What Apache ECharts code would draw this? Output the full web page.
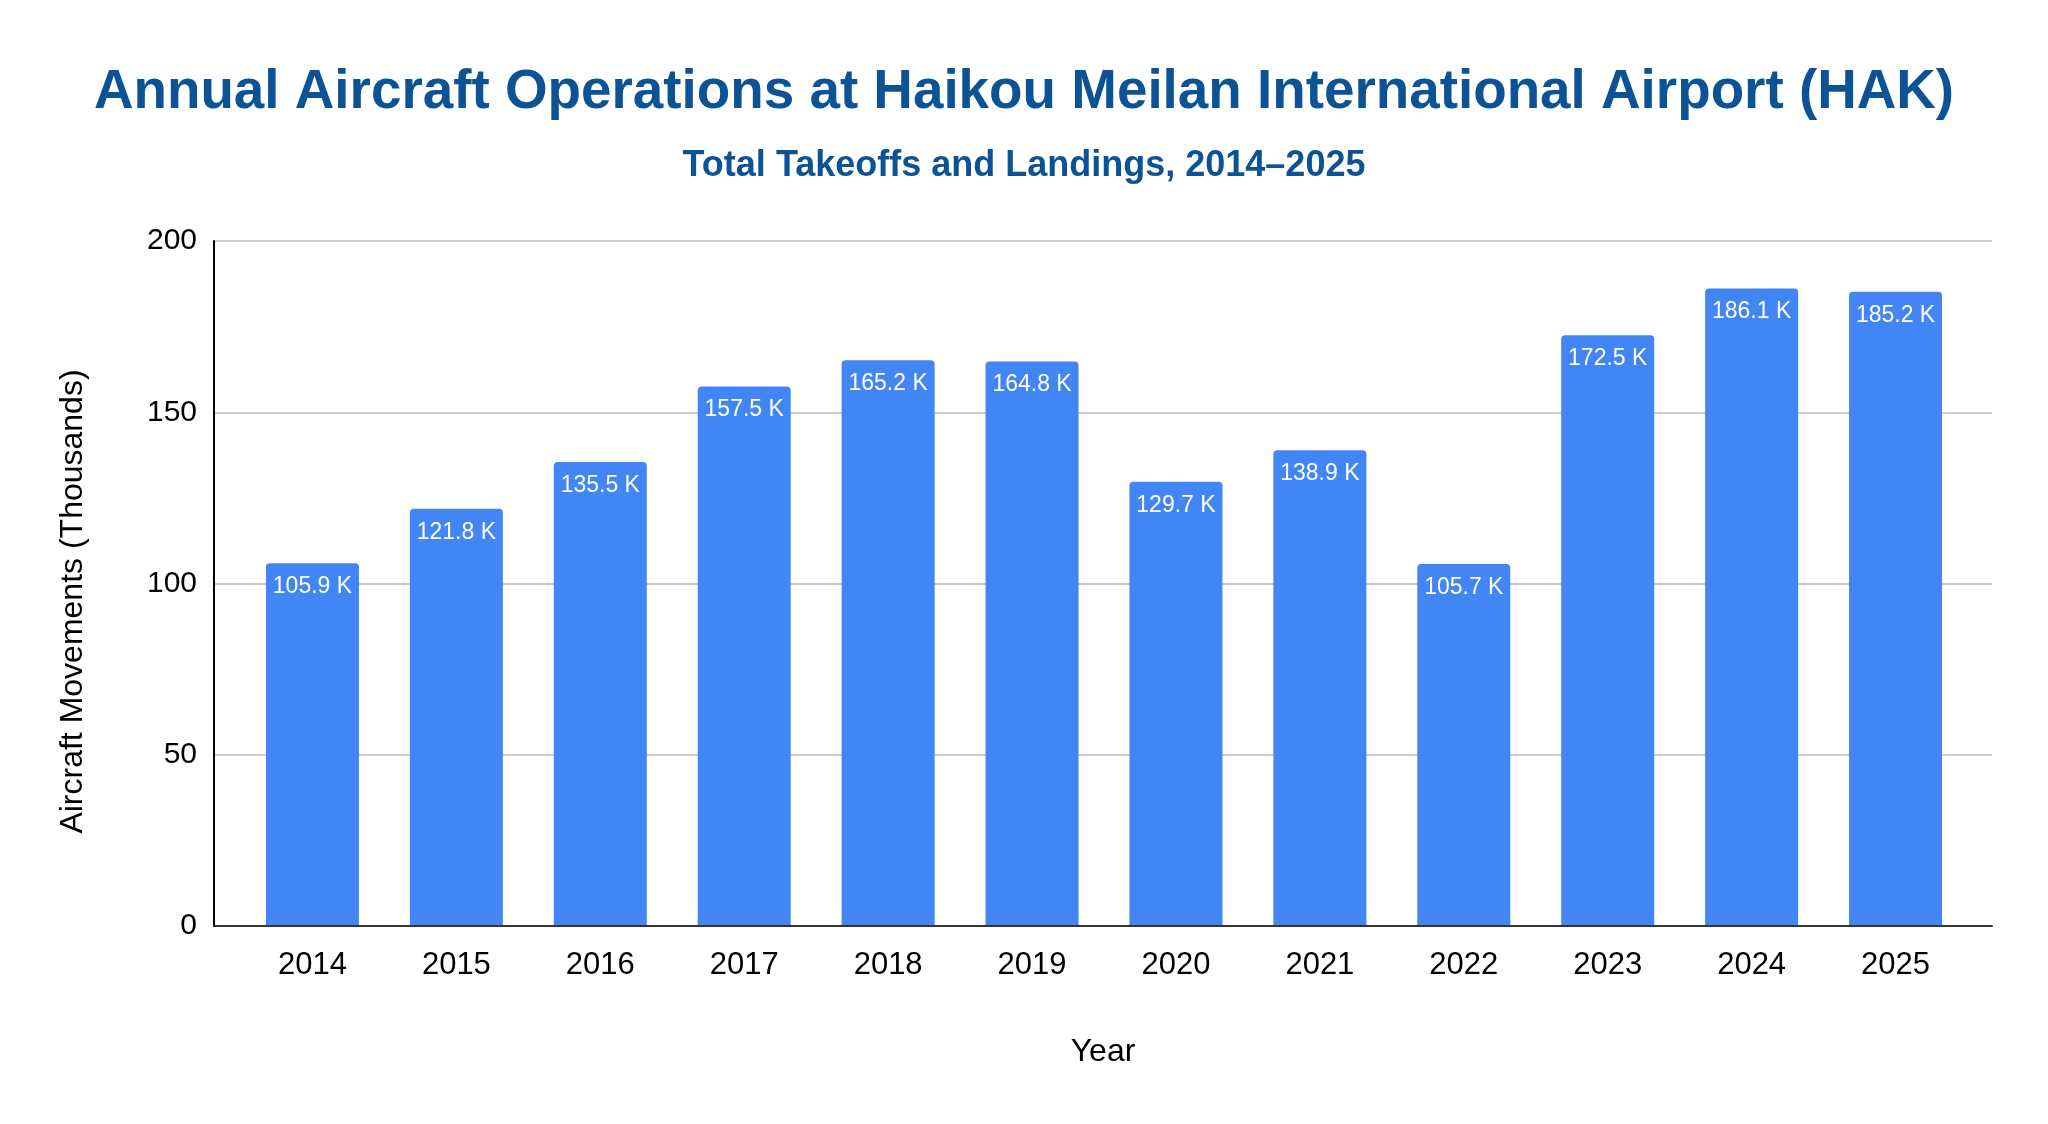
<!DOCTYPE html>
<html>
<head>
<meta charset="utf-8">
<title>HAK Aircraft Operations</title>
<script src="https://cdn.jsdelivr.net/npm/echarts@6/dist/echarts.min.js"></script>
<style>
  html, body { margin: 0; padding: 0; background: #fff; }
  #chart { width: 2048px; height: 1124px; }
</style>
</head>
<body>
<div id="chart"></div>
<script>
// data
var years = ['2014', '2015', '2016', '2017', '2018', '2019', '2020', '2021', '2022', '2023', '2024', '2025'];
var movements = [105.9, 121.8, 135.5, 157.5, 165.2, 164.8, 129.7, 138.9, 105.7, 172.5, 186.1, 185.2];
var yTicks = [0, 50, 100, 150, 200];

var FONT = '"Liberation Sans", Arial, sans-serif';

var chart = echarts.init(document.getElementById('chart'));

chart.setOption({
  backgroundColor: '#ffffff',
  animation: false,
  title: [{
    text: 'Annual Aircraft Operations at Haikou Meilan International Airport (HAK)',
    left: 'center',
    top: 60,
    textStyle: { fontFamily: FONT, fontSize: 54.8, fontWeight: 'bold', color: '#0b5394' }
  }, {
    text: 'Total Takeoffs and Landings, 2014\u20132025',
    left: 'center',
    top: 143,
    textStyle: { fontFamily: FONT, fontSize: 36, fontWeight: 'bold', color: '#0b5394' }
  }],
  grid: [
    // frame: axis lines + gridlines
    { left: 214, right: 56, top: 241, bottom: 198 },
    // bars sit a little inside the frame
    { left: 240.5, right: 80.5, top: 241, bottom: 198 }
  ],
  xAxis: [{
    gridIndex: 0,
    type: 'value',
    min: 0,
    max: 1,
    z: 5,
    name: 'Year',
    nameLocation: 'middle',
    nameGap: 110,
    nameTextStyle: { fontFamily: FONT, fontSize: 32, color: '#000' },
    axisLine: { show: true, lineStyle: { color: '#333', width: 2 } },
    axisTick: { show: false },
    axisLabel: { show: false },
    splitLine: { show: false }
  }, {
    gridIndex: 1,
    type: 'category',
    data: years,
    axisLine: { show: false },
    axisTick: { show: false },
    axisLabel: { fontFamily: FONT, fontSize: 31, color: '#000', margin: 24 }
  }],
  yAxis: [{
    gridIndex: 0,
    type: 'value',
    min: yTicks[0],
    max: yTicks[yTicks.length - 1],
    interval: 50,
    z: 0,
    name: 'Aircraft Movements (Thousands)',
    nameLocation: 'middle',
    nameGap: 125,
    nameRotate: 90,
    nameTextStyle: { fontFamily: FONT, fontSize: 32, color: '#000', padding: [0, 36, 0, 0] },
    axisLine: { show: true, lineStyle: { color: '#000', width: 2 } },
    axisTick: { show: false },
    axisLabel: { fontFamily: FONT, fontSize: 30, color: '#000', margin: 17 },
    splitLine: { show: true, lineStyle: { color: '#cccccc', width: 2 } }
  }, {
    gridIndex: 1,
    type: 'value',
    min: yTicks[0],
    max: yTicks[yTicks.length - 1],
    show: false
  }],
  series: [{
    type: 'bar',
    xAxisIndex: 1,
    yAxisIndex: 1,
    z: 3,
    data: movements,
    barWidth: 93,
    itemStyle: { color: '#4285f4', borderRadius: [4, 4, 0, 0] },
    label: {
      show: true,
      position: 'insideTop',
      distance: 12,
      fontFamily: FONT,
      fontSize: 23,
      color: '#ffffff',
      formatter: function (p) { return p.value.toFixed(1) + ' K'; }
    }
  }]
});
</script>
</body>
</html>
